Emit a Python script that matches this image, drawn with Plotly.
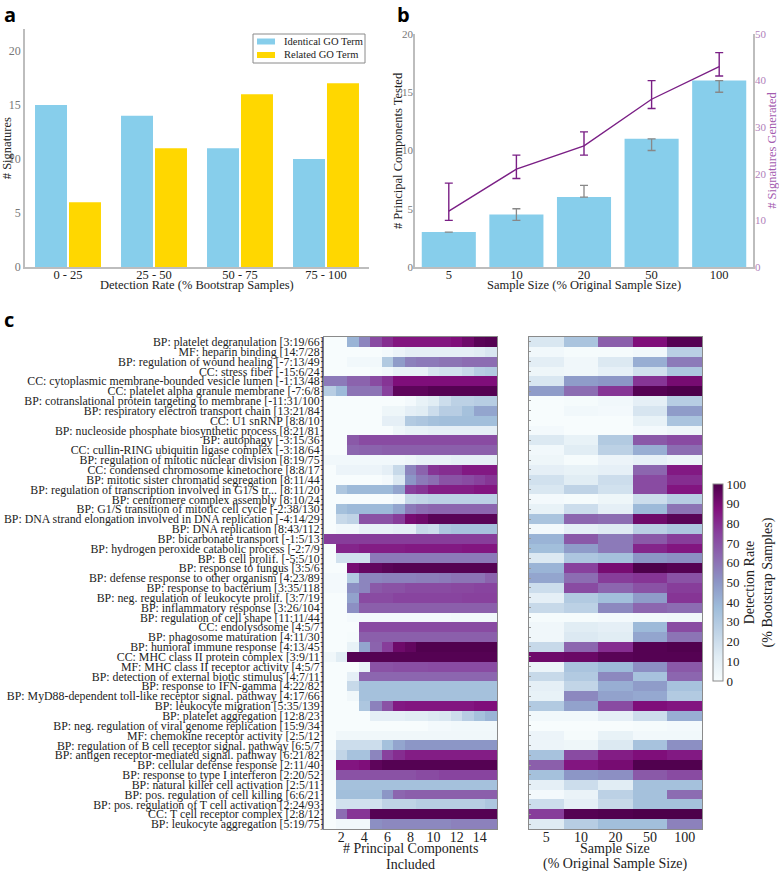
import plotly.graph_objects as go

W, H = 779, 874
SERIF = "Liberation Serif"

# ---- panel a
rate_bins = ["0 - 25", "25 - 50", "50 - 75", "75 - 100"]
identical = [15, 14, 11, 10]
related = [6, 11, 16, 17]
legend_labels = ["Identical GO Term", "Related GO Term"]

# ---- panel b
sample_sizes = ["5", "10", "20", "50", "100"]
pcs_tested = [3, 4.5, 6, 11, 16]
pcs_err_plus = [0, 0.5, 1, 0, 0]
pcs_err_minus = [0, 0.5, 0, 1, 1]
sigs_generated = [12, 21, 26, 36, 43]
sigs_err_plus = [6, 3, 3, 4, 3]
sigs_err_minus = [2, 2, 2, 2, 2]

# ---- panel c
terms = [
    "BP: platelet degranulation [3:19/66]",
    "MF: heparin binding [14:7/28]",
    "BP: regulation of wound healing [-7:13/49]",
    "CC: stress fiber [-15:6/24]",
    "CC: cytoplasmic membrane-bounded vesicle lumen [-1:13/48]",
    "CC: platelet alpha granule membrane [-7:6/8]",
    "BP: cotranslational protein targeting to membrane [-11:31/100]",
    "BP: respiratory electron transport chain [13:21/84]",
    "CC: U1 snRNP [8:8/10]",
    "BP: nucleoside phosphate biosynthetic process [8:21/81]",
    "BP: autophagy [-3:15/36]",
    "CC: cullin-RING ubiquitin ligase complex [-3:18/64]",
    "BP: regulation of mitotic nuclear division [8:19/75]",
    "CC: condensed chromosome kinetochore [8:8/17]",
    "BP: mitotic sister chromatid segregation [8:11/44]",
    "BP: regulation of transcription involved in G1/S tr... [8:11/20]",
    "BP: centromere complex assembly [8:10/24]",
    "BP: G1/S transition of mitotic cell cycle [-2:38/130]",
    "BP: DNA strand elongation involved in DNA replication [-4:14/29]",
    "BP: DNA replication [8:43/112]",
    "BP: bicarbonate transport [-1:5/13]",
    "BP: hydrogen peroxide catabolic process [-2:7/9]",
    "BP: B cell prolif. [-5:5/10]",
    "BP: response to fungus [3:5/6]",
    "BP: defense response to other organism [4:23/89]",
    "BP: response to bacterium [3:35/118]",
    "BP: neg. regulation of leukocyte prolif. [3:7/19]",
    "BP: inflammatory response [3:26/104]",
    "BP: regulation of cell shape [11:11/44]",
    "CC: endolysosome [4:5/7]",
    "BP: phagosome maturation [4:11/30]",
    "BP: humoral immune response [4:13/45]",
    "CC: MHC class II protein complex [3:9/11]",
    "MF: MHC class II receptor activity [4:5/7]",
    "BP: detection of external biotic stimulus [4:7/11]",
    "BP: response to IFN-gamma [4:22/82]",
    "BP: MyD88-dependent toll-like receptor signal. pathway [4:17/66]",
    "BP: leukocyte migration [5:35/139]",
    "BP: platelet aggregation [12:8/23]",
    "BP: neg. regulation of viral genome replication [15:9/34]",
    "MF: chemokine receptor activity [2:5/12]",
    "BP: regulation of B cell receptor signal. pathway [6:5/7]",
    "BP: antigen receptor-mediated signal. pathway [6:21/82]",
    "BP: cellular defense response [2:11/40]",
    "BP: response to type I interferon [2:20/52]",
    "BP: natural killer cell activation [2:5/11]",
    "BP: pos. regulation of cell killing [6:6/21]",
    "BP: pos. regulation of T cell activation [2:24/93]",
    "CC: T cell receptor complex [2:8/12]",
    "BP: leukocyte aggregation [5:19/75]",
]
pc_counts = list(range(1, 16))
pc_rates = [
    [0,0,40,55,72,80,86,86,86,86,86,88,92,97,98],
    [0,0,0,0,0,2,6,10,10,10,10,10,10,12,15],
    [0,0,3,3,3,30,48,56,58,58,60,60,62,62,62],
    [0,0,0,0,1,3,8,8,8,16,18,18,22,28,30],
    [58,58,65,65,72,78,88,88,88,88,88,88,88,88,88],
    [28,38,60,60,60,75,96,96,96,98,98,98,98,98,98],
    [0,0,0,0,0,0,0,2,8,12,20,26,26,28,28],
    [0,0,0,0,0,5,5,10,12,20,28,28,35,45,45],
    [0,0,0,0,0,10,10,30,32,35,36,36,36,36,36],
    [0,0,0,0,0,0,5,8,8,10,10,10,10,10,10],
    [0,0,68,72,72,72,72,72,72,72,72,72,72,72,72],
    [0,0,64,65,65,66,66,66,66,66,66,66,66,66,66],
    [3,3,3,3,3,3,3,5,8,8,8,10,10,10,10],
    [0,6,6,6,6,10,22,55,65,78,80,80,85,85,85],
    [0,0,0,0,0,2,14,50,58,62,70,70,72,75,78],
    [0,32,38,38,38,38,45,75,78,84,84,84,84,86,86],
    [0,0,0,0,0,0,4,22,24,26,26,26,26,26,26],
    [0,35,38,38,38,38,45,58,62,64,64,64,64,64,64],
    [0,22,25,70,70,70,76,90,92,97,97,97,97,97,97],
    [0,3,3,8,8,8,10,10,22,20,32,34,34,34,34],
    [76,76,76,76,76,76,76,76,76,76,76,76,76,76,76],
    [0,82,82,84,84,84,84,85,85,85,85,85,86,86,86],
    [0,18,18,18,58,58,58,58,58,58,58,58,58,58,58],
    [0,0,90,94,95,97,98,98,98,98,98,98,98,98,98],
    [2,2,30,55,55,56,56,56,57,57,58,60,60,60,65],
    [2,2,52,55,68,70,70,72,72,72,72,73,73,74,74],
    [0,0,46,72,72,72,74,74,74,74,74,74,75,75,75],
    [0,0,52,66,66,66,66,66,66,66,66,66,66,66,66],
    [0,0,2,2,2,2,2,2,2,2,2,3,3,3,3],
    [0,0,0,72,72,72,72,72,72,72,72,72,72,72,72],
    [0,0,1,66,66,66,66,66,66,66,66,66,66,66,66],
    [0,0,8,45,65,76,92,95,99,99,99,99,99,99,99],
    [4,12,98,98,98,98,98,98,98,98,98,98,98,98,98],
    [0,0,0,8,70,70,71,71,71,72,72,72,72,72,72],
    [0,0,10,64,64,64,64,64,64,64,64,64,64,64,64],
    [0,0,22,35,35,35,35,35,35,35,35,35,35,35,35],
    [0,0,4,35,35,35,35,35,35,35,35,35,35,35,35],
    [0,0,0,32,56,70,85,86,86,86,86,86,86,88,88],
    [0,0,0,0,10,10,10,12,12,14,15,20,28,35,40],
    [0,0,0,0,0,0,0,0,0,2,2,3,3,3,3],
    [0,4,4,4,4,4,4,4,4,4,4,4,4,4,4],
    [0,20,20,20,20,35,45,50,50,50,50,50,50,50,50],
    [3,24,34,34,55,75,80,84,84,84,84,84,84,84,84],
    [0,86,86,88,96,98,98,98,98,98,98,98,98,98,98],
    [4,70,70,70,70,70,70,70,72,72,74,74,74,74,74],
    [0,35,35,35,35,35,35,35,35,35,35,35,35,35,35],
    [0,36,36,36,36,50,64,66,66,66,66,66,66,66,66],
    [0,18,18,18,18,25,25,25,28,28,28,28,28,28,32],
    [0,62,78,78,98,98,98,98,98,98,98,98,98,98,98],
    [0,3,3,3,52,54,54,54,54,54,54,56,56,56,56],
]
size_rates = [
    [15,33,66,88,98],[3,1,1,3,27],[11,4,14,42,58],[5,4,9,18,32],[15,48,50,78,90],
    [48,62,78,98,100],[0,1,3,10,28],[0,3,2,16,48],[0,0,0,8,33],[2,0,0,2,5],
    [14,8,30,68,72],[3,12,26,42,62],[5,1,6,9,6],[10,8,9,64,85],[18,12,20,72,80],
    [15,25,18,72,86],[2,1,5,20,28],[8,20,10,38,60],[33,64,62,92,97],[2,10,13,27,32],
    [40,68,58,68,76],[36,48,58,82,86],[14,32,35,50,52],[40,75,90,100,98],[45,62,76,78,70],
    [20,72,64,70,76],[10,30,36,48,78],[22,26,54,64,62],[1,1,2,3,4],[4,12,10,38,72],
    [4,14,12,45,60],[22,64,80,98,99],[92,93,97,98,98],[6,33,38,52,68],[22,30,54,34,64],
    [10,24,42,48,34],[8,54,46,44,30],[30,46,72,88,86],[3,3,10,20,42],[0,0,0,1,2],
    [6,1,8,3,3],[6,5,14,34,52],[34,72,84,88,85],[66,86,90,99,99],[35,50,52,68,72],
    [10,20,12,35,35],[2,7,26,35,62],[20,10,22,35,35],[76,98,99,100,100],[13,28,36,36,56],
]

SKY, GOLD = "#87CEEB", "#FFD700"
PURPLE = "#7a1f85"
SPINE = "#bdbdbd"
FRAME = "#8a8a8a"
TICKGRAY = "#777777"
DARK = "#222222"
BUPU = [
    [0.0, "#f7fcfd"], [0.125, "#e0ecf4"], [0.25, "#bfd3e6"], [0.375, "#9ebcda"],
    [0.5, "#8c96c6"], [0.625, "#8c6bb1"], [0.75, "#88419d"], [0.875, "#810f7c"], [1.0, "#4d004b"],
]


def dx(a, b):
    return [a / W, b / W]


def dy(top, bottom):
    return [1 - bottom / H, 1 - top / H]


def pxx(v):
    return v / W


def pxy(v):
    return 1 - v / H


fig = go.Figure()

# panel a
fig.add_trace(go.Bar(x=rate_bins, y=identical, name=legend_labels[0], marker_color=SKY, marker_line_width=0,
                     xaxis="x", yaxis="y", offsetgroup="i", showlegend=False))
fig.add_trace(go.Bar(x=rate_bins, y=related, name=legend_labels[1], marker_color=GOLD, marker_line_width=0,
                     xaxis="x", yaxis="y", offsetgroup="r", showlegend=False))

# panel b
fig.add_trace(go.Bar(x=sample_sizes, y=pcs_tested, width=0.8, marker_color=SKY, marker_line_width=0,
                     xaxis="x2", yaxis="y2", showlegend=False,
                     error_y=dict(type="data", symmetric=False, array=pcs_err_plus,
                                  arrayminus=pcs_err_minus, color="#888888", thickness=1.3, width=4)))
fig.add_trace(go.Scatter(x=sample_sizes, y=sigs_generated, mode="lines", showlegend=False,
                         line=dict(color=PURPLE, width=1.4), xaxis="x2", yaxis="y3",
                         error_y=dict(type="data", symmetric=False, array=sigs_err_plus,
                                      arrayminus=sigs_err_minus, color=PURPLE, thickness=1.4, width=4)))

# panel c
fig.add_trace(go.Heatmap(x=pc_counts, y=terms, z=pc_rates, coloraxis="coloraxis",
                         xaxis="x3", yaxis="y4"))
fig.add_trace(go.Heatmap(x=sample_sizes, y=terms, z=size_rates, coloraxis="coloraxis",
                         xaxis="x4", yaxis="y5"))

font_ax = dict(family=SERIF, size=12.5, color=DARK)
font_tick = dict(family=SERIF, size=12.5, color=DARK)
font_gray = dict(family=SERIF, size=12, color=TICKGRAY)
font_gray_b = dict(family=SERIF, size=11, color=TICKGRAY)
font_row = dict(family=SERIF, size=11.85, color=DARK)
font_big = dict(family=SERIF, size=14, color=DARK)

anns = [
    dict(text=t, x=pxx(px), y=pxy(py), xref="paper", yref="paper", showarrow=False,
         xanchor="left", yanchor="middle",
         font=dict(family="Open Sans", size=20, color="black", weight="bold"))
    for t, px, py in [("a", 2, 14.5), ("b", 395, 14.5), ("c", 2, 319)]
]
anns += [
    dict(text=t, x=pxx(px), y=pxy(py), xref="paper", yref="paper", showarrow=False,
         xanchor="center", yanchor="middle", textangle=ang, font=f)
    for t, px, py, ang, f in [
        ("Detection Rate (% Bootstrap Samples)", 197, 285, 0, font_ax),
        ("Sample Size (% Original Sample Size)", 584, 285, 0, font_ax),
        ("# Principal Components Tested", 398, 151, -90, font_ax),
        ("# Principal Components", 410, 848, 0, font_big),
        ("Included", 410, 864, 0, font_big),
        ("Sample Size", 615, 848, 0, font_big),
        ("(% Original Sample Size)", 615, 864, 0, font_big),
    ]
]
anns += [
    dict(text=t, x=pxx(282), y=pxy(py), xref="paper", yref="paper", showarrow=False,
         xanchor="left", yanchor="middle", font=dict(family=SERIF, size=10.5, color=DARK))
    for t, py in zip(legend_labels, [42, 55])
]
shapes = [dict(type="rect", xref="paper", yref="paper", x0=pxx(253), x1=pxx(365), y0=pxy(63), y1=pxy(34),
               line=dict(color="#8a8a8a", width=1), fillcolor="white", layer="above")]
shapes += [
    dict(type="rect", xref="paper", yref="paper", x0=pxx(257), x1=pxx(275), y0=pxy(b), y1=pxy(t),
         line=dict(width=0), fillcolor=c, layer="above")
    for c, t, b in [(SKY, 38.5, 44.5), (GOLD, 52, 58)]
]

fig.update_layout(
    width=W, height=H, margin=dict(l=0, r=0, t=0, b=0, autoexpand=False),
    paper_bgcolor="white", plot_bgcolor="white", font=dict(family=SERIF, color=DARK),
    barmode="group", bargap=0.21, bargroupgap=0.058,
    showlegend=False, shapes=shapes, annotations=anns,
    xaxis=dict(domain=dx(25, 369), anchor="y", range=[-0.5, 3.5], showline=True, linecolor=SPINE,
               linewidth=1.5, ticks="", tickfont=font_tick, showgrid=False, ticklabelstandoff=-5),
    yaxis=dict(domain=dy(29.3, 267), anchor="x", range=[0, 22], tickvals=[0, 5, 10, 15, 20],
               showline=True, linecolor=SPINE, linewidth=1.5, ticks="", tickfont=font_gray,
               showgrid=False, zeroline=False,
               title=dict(text="# Signatures", font=font_ax, standoff=2)),
    xaxis2=dict(domain=dx(415, 753), anchor="y2", range=[-0.5, 4.5], showline=True, linecolor=SPINE,
                linewidth=1.5, ticks="", tickfont=font_tick, showgrid=False, ticklabelstandoff=-5),
    yaxis2=dict(domain=dy(34, 267), anchor="x2", range=[0, 20], tickvals=[0, 5, 10, 15, 20],
                showline=True, linecolor=SPINE, linewidth=1.5, ticks="", tickfont=font_gray_b,
                showgrid=False, zeroline=False, ticklabelstandoff=-2),
    yaxis3=dict(domain=dy(34, 267), anchor="x2", overlaying="y2", side="right", range=[0, 50],
                tickvals=[0, 10, 20, 30, 40, 50], showline=True, linecolor=SPINE, linewidth=1.5,
                ticks="", tickfont=dict(family=SERIF, size=11, color="#b07fba"), showgrid=False,
                zeroline=False, ticklabelstandoff=-2,
                title=dict(text="# Signatures Generated", standoff=5,
                           font=dict(family=SERIF, size=12.5, color="#a45cb0"))),
    xaxis3=dict(domain=dx(324, 497), anchor="y4", range=[0.5, 15.5], tickvals=[2, 4, 6, 8, 10, 12, 14],
                showline=True, mirror=True, linecolor=FRAME, linewidth=1, ticks="", showgrid=False,
                tickfont=font_big, ticklabelstandoff=-5),
    yaxis4=dict(domain=dy(337, 829), anchor="x3", autorange="reversed", type="category",
                showline=True, mirror=True, linecolor=FRAME, linewidth=1, ticks="outside", ticklen=2,
                tickcolor="#666666", showgrid=False, tickfont=font_row, dtick=1, automargin=False,
                ticklabelstandoff=-5),
    xaxis4=dict(domain=dx(529, 702), anchor="y5", type="category", showline=True, mirror=True,
                linecolor=FRAME, linewidth=1, ticks="", showgrid=False,
                tickfont=font_big, ticklabelstandoff=-5),
    yaxis5=dict(domain=dy(337, 829), anchor="x4", autorange="reversed", type="category",
                showline=True, mirror=True, linecolor=FRAME, linewidth=1, showticklabels=False,
                ticks="inside", ticklen=2, tickcolor="#999999", showgrid=False, dtick=1),
    coloraxis=dict(
        cmin=0, cmax=100, colorscale=BUPU,
        colorbar=dict(x=pxx(713), xanchor="left", y=pxy(484), yanchor="top", xpad=0, ypad=0,
                      lenmode="pixels", len=197, thicknessmode="pixels", thickness=10,
                      tickvals=list(range(0, 101, 10)), ticks="", outlinecolor=FRAME, outlinewidth=1,
                      tickfont=dict(family=SERIF, size=13, color=DARK),
                      title=dict(text="Detection Rate<br>(% Bootstrap Samples)", side="right",
                                 font=font_big))),
)

fig.write_html("out.html", post_script="document.body.style.margin='0';",
               config=dict(displayModeBar=False))
